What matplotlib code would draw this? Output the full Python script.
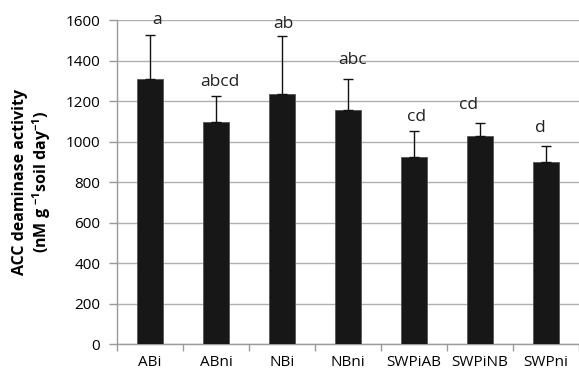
import matplotlib
matplotlib.use("Agg")
import matplotlib.pyplot as plt
import numpy as np

categories = ["ABi", "ABni", "NBi", "NBni", "SWPiAB", "SWPiNB", "SWPni"]
means = [1310, 1095, 1235, 1157, 925, 1029, 897]
errors = [214, 130, 286, 152, 127, 64, 79]
letters = ["a", "abcd", "ab", "abc", "cd", "cd", "d"]
yticks = [0, 200, 400, 600, 800, 1000, 1200, 1400, 1600]

# letter placement offsets (points)
letter_dx = [5, 3, 1, 3, 2, -8, -4]
letter_dy = [11, 10, 9, 14, 10, 13, 13]

plt.rcParams['font.family'] = ['Open Sans', 'DejaVu Sans']
plt.rcParams['mathtext.default'] = 'regular'
fig = plt.figure(figsize=(5.79, 3.74), dpi=100)
ax = fig.add_axes([0.202, 0.080, 0.798, 0.8665])

x = np.arange(len(categories))
ax.bar(x, means, width=0.39, color="#171717", edgecolor="#555555", linewidth=0.6, zorder=3)
ax.errorbar(x, means, yerr=[np.zeros(len(errors)), errors], fmt="none",
            ecolor="#111111", elinewidth=1.0, capsize=3.5, capthick=1.0, zorder=4)

for i, (m, e, lt) in enumerate(zip(means, errors, letters)):
    ax.annotate(lt, xy=(x[i], m + e), xytext=(letter_dx[i], letter_dy[i]),
                textcoords="offset points", ha="center", va="center",
                fontsize=12.5, color="#222222")

ax.set_xlim(-0.5, len(categories) - 0.5)
ax.set_ylim(0, 1600)
ax.set_yticks(yticks)
ax.set_yticklabels([str(v) for v in yticks], fontsize=11)
ax.yaxis.grid(True, color="#b0b0b0", linewidth=1.0, zorder=0)
ax.set_axisbelow(True)

ax.set_xticks(x)
ax.set_xticklabels(categories, fontsize=11)
ax.tick_params(axis="x", length=0, pad=8)
ax.set_xticks(np.arange(-0.5, len(categories), 1), minor=True)
ax.tick_params(axis="x", which="minor", length=5, color="#999999", width=1)
ax.tick_params(axis="y", length=6, color="#999999", width=1, pad=6)

for s in ["top", "right"]:
    ax.spines[s].set_visible(False)
for s in ["left", "bottom"]:
    ax.spines[s].set_color("#999999")
    ax.spines[s].set_linewidth(1.0)

ax.set_ylabel("ACC deaminase activity\n(nM g $^{-1}$soil day$^{-1}$)",
              fontsize=11.5, fontweight="bold", labelpad=9, linespacing=1.15)

fig.savefig("out.png", dpi=100)
